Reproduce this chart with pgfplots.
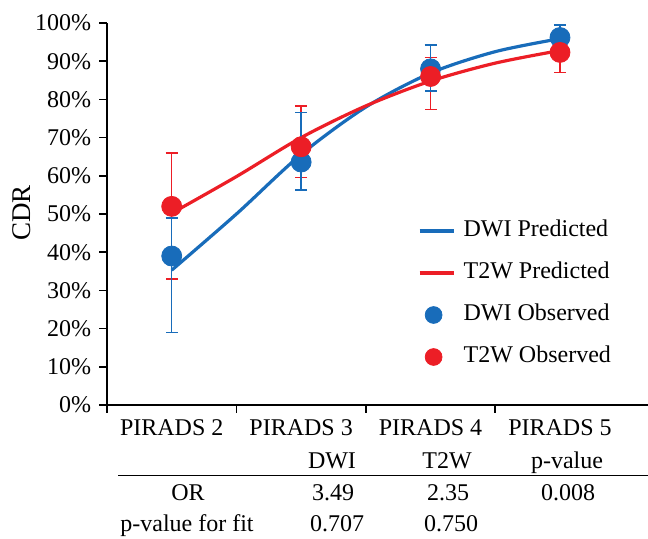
\documentclass[border=0pt]{standalone}
\usepackage{pgfplots}
\pgfplotsset{compat=1.18}
\usepackage{fontspec}
\setmainfont{Liberation Serif}

\definecolor{dwiblue}{RGB}{24,108,186}
\definecolor{t2wred}{RGB}{236,30,38}

\pgfplotsset{
    obslegend/.style={legend image code/.code={%
        \path[draw=none, fill=none] (0pt,-5pt) (20pt,5pt);
        \draw[##1, mark size=4.2pt] plot coordinates {(7pt,0pt)};}},
}

\begin{document}
\fontsize{12}{14}\selectfont
\begin{tikzpicture}
\useasboundingbox (0,0) rectangle (324pt,269pt);
\begin{axis}[
    at={(53.5pt,66.5pt)}, anchor=south west,
    scale only axis,
    width=270.5pt, height=191pt,
    axis lines=left,
    axis line style={-, line width=0.8pt},
    xmin=-0.5, xmax=3.68,
    ymin=0, ymax=100,
    ytick={0,10,...,100},
    yticklabel={\pgfmathprintnumber{\tick}\%},
    /pgf/number format/assume math mode=true,
    xtick={-0.5,0.5,1.5,2.5},
    xticklabels={},
    extra x ticks={0,1,2,3},
    extra x tick labels={PIRADS 2, PIRADS 3, PIRADS 4, PIRADS 5},
    extra x tick style={major tick length=0pt, xticklabel style={yshift=-3pt}},
    tick align=outside,
    major tick length=3.8pt,
    tick style={line width=0.8pt, black},
    clip=false,
    legend style={at={(axis cs:1.90,48.8)}, anchor=north west, draw=none,
        fill=none, inner sep=0pt, row sep=9pt, column sep=2pt,
        nodes={text height=9pt, text depth=3pt, inner sep=0pt}},
    legend cell align=left,
]
% predicted curves
\addplot[dwiblue, line width=1.6pt, smooth] coordinates {
    (0,35.3) (0.5,50.0) (1,65.6) (1.5,78.0) (2,86.9) (2.5,92.5) (3,95.9)
};
\addlegendentry{DWI Predicted}
\addplot[t2wred, line width=1.6pt, smooth] coordinates {
    (0,50.2) (0.5,59.8) (1,70.0) (1.5,78.3) (2,84.8) (2.5,89.5) (3,92.8)
};
\addlegendentry{T2W Predicted}

% error bars (drawn under the markers)
\addplot[draw=none, mark=none, forget plot,
    error bars/.cd, y dir=both, y explicit,
    error bar style={t2wred, line width=0.7pt},
    error mark options={t2wred, rotate=90, mark size=3pt, line width=0.7pt}]
coordinates {
    (0,52.0) += (0,14.0) -= (0,19.0)
    (1,67.6) += (0,10.7) -= (0,8.1)
    (2,86.0) += (0,5.0) -= (0,8.6)
    (3,92.3) += (0,4.0) -= (0,5.3)
};
\addplot[draw=none, mark=none, forget plot,
    error bars/.cd, y dir=both, y explicit,
    error bar style={dwiblue, line width=0.7pt},
    error mark options={dwiblue, rotate=90, mark size=3pt, line width=0.7pt}]
coordinates {
    (0,39.0) += (0,10.0) -= (0,20.0)
    (1,63.6) += (0,13.0) -= (0,7.3)
    (2,88.0) += (0,6.2) -= (0,5.8)
    (3,96.2) += (0,3.3) -= (0,3.5)
};

% observed points
\addplot[only marks, mark=*, mark size=5pt, color=dwiblue, obslegend]
coordinates {(0,39.0) (1,63.6) (2,88.0) (3,96.2)};
\addlegendentry{DWI Observed}
\addplot[only marks, mark=*, mark size=5pt, color=t2wred, obslegend]
coordinates {(0,52.0) (1,67.6) (2,86.0) (3,92.3)};
\addlegendentry{T2W Observed}
\end{axis}

% y label
\node[rotate=90, font=\fontsize{13.5}{15}\selectfont] at (11pt,162.5pt) {CDR};

% statistics table under the axis
\node[anchor=base] at (166pt,35pt) {DWI};
\node[anchor=base] at (223.5pt,35pt) {T2W};
\node[anchor=base] at (283.5pt,35pt) {p-value};
\draw[line width=0.7pt] (59pt,31.15pt) -- (324pt,31.15pt);
\node[anchor=base] at (94pt,19pt) {OR};
\node[anchor=base] at (166.5pt,19pt) {3.49};
\node[anchor=base] at (224pt,19pt) {2.35};
\node[anchor=base] at (284pt,19pt) {0.008};
\node[anchor=base] at (93.5pt,3.2pt) {p-value for fit};
\node[anchor=base] at (168.5pt,3.2pt) {0.707};
\node[anchor=base] at (225.5pt,3.2pt) {0.750};
\end{tikzpicture}
\end{document}
